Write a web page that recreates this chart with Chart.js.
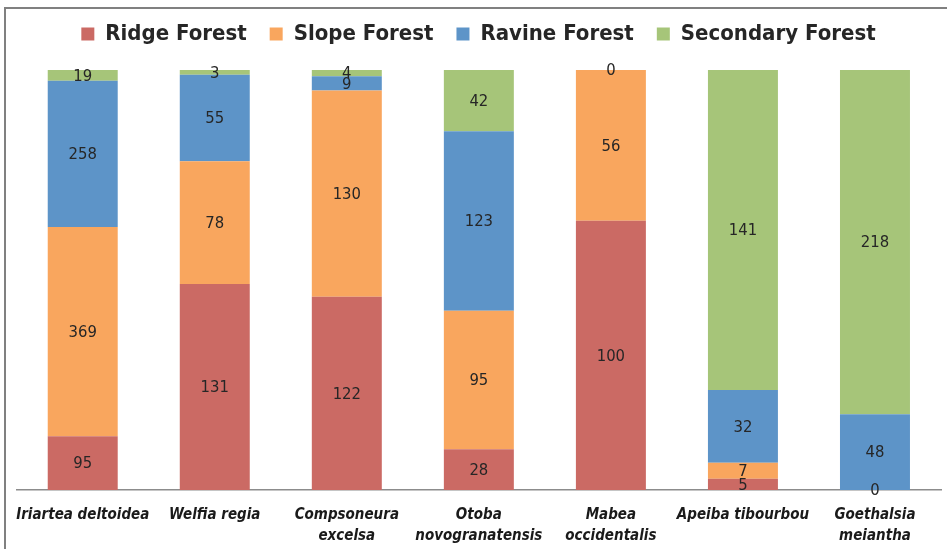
<!doctype html>
<html lang="en">
<head>
<meta charset="utf-8">
<title>Stems by forest type</title>
<script src="https://cdn.jsdelivr.net/npm/chart.js"></script>
<style>
  html, body { margin: 0; padding: 0; background: #fff; }
  #wrap { position: relative; width: 947px; height: 549px; }
</style>
</head>
<body>
<div id="wrap"><canvas id="myChart" width="947" height="549"></canvas></div>
<script>
// species along the x axis
const species = [
  "Iriartea deltoidea",
  ["Welfia regia"],
  ["Compsoneura", "excelsa"],
  ["Otoba", "novogranatensis"],
  ["Mabea", "occidentalis"],
  "Apeiba tibourbou",
  ["Goethalsia", "meiantha"]
];
const forestTypes = ["Ridge Forest", "Slope Forest", "Ravine Forest", "Secondary Forest"];
// raw counts per forest type (null = no label shown)
const ridge     = [95, 131, 122, 28, 100, 5, 0];
const slope     = [369, 78, 130, 95, 56, 7, null];
const ravine    = [258, 55, 9, 123, null, 32, 48];
const secondary = [19, 3, 4, 42, 0, 141, 218];
const colors = ["#CB6A64", "#F9A65E", "#5D94C8", "#A6C579"];

const raw = [ridge, slope, ravine, secondary];
const totals = species.map((s, i) => raw.reduce((a, r) => a + (r[i] || 0), 0));

const fontFam = "'DejaVu Sans Condensed', 'Noto Sans', sans-serif";

const valueLabels = {
  id: "valueLabels",
  afterDatasetsDraw(chart) {
    const c = chart.ctx;
    c.save();
    c.font = "16.5px " + fontFam;
    c.fillStyle = "#262626";
    c.textAlign = "center";
    c.textBaseline = "middle";
    chart.data.datasets.forEach((ds, di) => {
      chart.getDatasetMeta(di).data.forEach((bar, i) => {
        const v = ds.counts[i];
        if (v === null || v === undefined) return;
        const y = (bar.y + bar.base) / 2;
        c.fillText(String(v), bar.x, y + 1);
      });
    });
    c.restore();
  }
};

const frame = {
  id: "frame",
  beforeInit(chart) {
    // extra room under the legend
    const fit = chart.legend.fit;
    chart.legend.fit = function () {
      fit.call(this);
      this.height += 15;
    };
  },
  beforeDraw(chart) {
    const c = chart.ctx;
    c.save();
    c.fillStyle = "#fff";
    c.fillRect(0, 0, chart.width, chart.height);
    c.strokeStyle = "#808080";
    c.lineWidth = 2;
    c.strokeRect(5, 8, chart.width + 10, chart.height + 10);
    c.restore();
  }
};

const ctx = document.getElementById("myChart");
const myChart = new Chart(ctx, {
  type: "bar",
  data: {
    labels: species,
    datasets: forestTypes.map((name, k) => ({
      label: name,
      counts: raw[k],
      data: raw[k].map((v, i) => (v || 0) / totals[i] * 100),
      backgroundColor: colors[k],
      borderWidth: 0,
      barPercentage: 0.53,
      categoryPercentage: 1
    }))
  },
  options: {
    responsive: false,
    animation: false,
    layout: { padding: { left: 16, right: 6, top: 0, bottom: 0 } },
    plugins: {
      legend: {
        position: "top",
        labels: {
          boxWidth: 13,
          boxHeight: 13,
          padding: 23,
          color: "#262626",
          font: { family: fontFam, size: 22, weight: "bold" }
        }
      },
      tooltip: { enabled: false }
    },
    scales: {
      x: {
        stacked: true,
        grid: { display: false, drawTicks: false },
        border: { display: true, color: "#8c8c8c", width: 1.5 },
        afterFit(scale) { scale.height = 59; },
        ticks: {
          padding: 15,
          maxRotation: 0,
          autoSkip: false,
          color: "#1a1a1a",
          font: { family: fontFam, size: 15, weight: "bold", style: "italic", lineHeight: 1.4 }
        }
      },
      y: {
        stacked: true,
        display: false,
        min: 0,
        max: 100
      }
    }
  },
  plugins: [frame, valueLabels]
});
</script>
</body>
</html>
